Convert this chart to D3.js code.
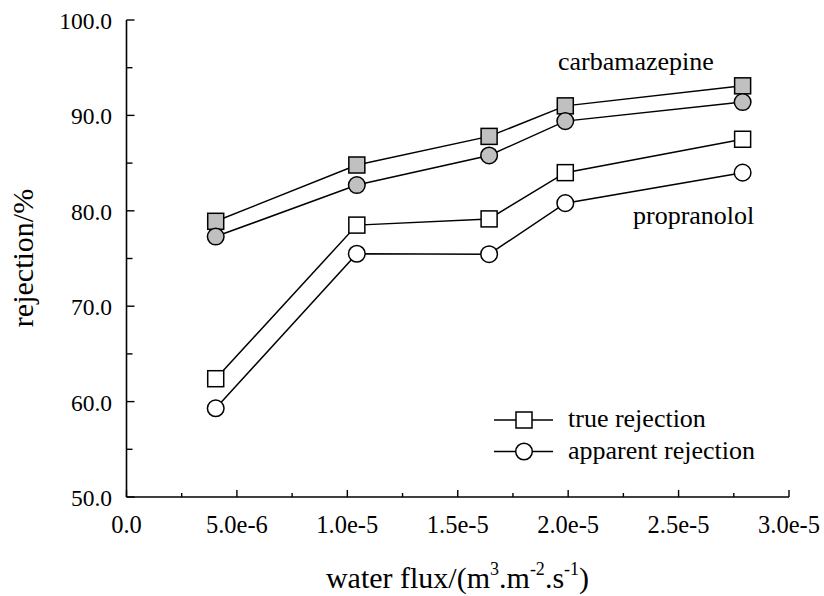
<!DOCTYPE html>
<html>
<head>
<meta charset="utf-8">
<script src="https://cdn.jsdelivr.net/npm/d3@7"></script>
<style>
  body { margin: 0; background: #fff; }
</style>
</head>
<body>
<svg id="chart" width="824" height="596"></svg>
<script>
// ---- data ----
const waterFlux = [4.04e-6, 1.043e-5, 1.642e-5, 1.987e-5, 2.79e-5];
const carbTrue = [78.9, 84.8, 87.8, 91.0, 93.1];
const carbApparent = [77.3, 82.7, 85.8, 89.4, 91.4];
const propTrue = [62.4, 78.5, 79.15, 84.0, 87.5];
const propApparent = [59.3, 75.5, 75.45, 80.8, 84.0];
const xTickValues = [0, 5e-6, 1e-5, 1.5e-5, 2e-5, 2.5e-5, 3e-5];
const xTickLabels = ["0.0", "5.0e-6", "1.0e-5", "1.5e-5", "2.0e-5", "2.5e-5", "3.0e-5"];
const yTickValues = [50, 60, 70, 80, 90, 100];
const yTickLabels = ["50.0", "60.0", "70.0", "80.0", "90.0", "100.0"];
const legendLabels = ["true rejection", "apparent rejection"];

const FONT = "'Liberation Serif', 'Times New Roman', Times, serif";

const series = [
  { values: carbTrue, shape: "square", fill: "#c0c0c0" },
  { values: carbApparent, shape: "circle", fill: "#c0c0c0" },
  { values: propTrue, shape: "square", fill: "#ffffff" },
  { values: propApparent, shape: "circle", fill: "#ffffff" }
];

const svg = d3.select("#chart").attr("font-family", FONT);
const x = d3.scaleLinear().domain([0, 3e-5]).range([126.5, 789]);
const y = d3.scaleLinear().domain([50, 100]).range([497, 20]);

// axes
const g = svg.append("g");
g.append("line").attr("x1", x(0)).attr("x2", x(3e-5)).attr("y1", y(50)).attr("y2", y(50))
  .attr("stroke", "#000").attr("stroke-width", 1.6);
g.append("line").attr("x1", x(0)).attr("x2", x(0)).attr("y1", y(50)).attr("y2", y(100))
  .attr("stroke", "#000").attr("stroke-width", 1.6);

// x ticks (inward)
const xMinor = d3.range(0, 13).map(i => i * 2.5e-6);
xMinor.forEach((v, i) => {
  const major = i % 2 === 0;
  g.append("line").attr("x1", x(v)).attr("x2", x(v))
    .attr("y1", y(50)).attr("y2", y(50) - (major ? 7 : 4))
    .attr("stroke", "#000").attr("stroke-width", 1.4);
});
xTickValues.forEach((v, i) => {
  g.append("text").attr("x", x(v)).attr("y", y(50) + 36)
    .attr("font-family", FONT)
    .attr("text-anchor", "middle").attr("font-size", 24.5).text(xTickLabels[i]);
});

// y ticks (inward)
const yMinor = d3.range(0, 11).map(i => 50 + i * 5);
yMinor.forEach((v, i) => {
  const major = i % 2 === 0;
  g.append("line").attr("x1", x(0)).attr("x2", x(0) + (major ? 8 : 6))
    .attr("y1", y(v)).attr("y2", y(v))
    .attr("stroke", "#000").attr("stroke-width", 1.4);
});
yTickValues.forEach((v, i) => {
  g.append("text").attr("x", 112).attr("y", y(v) + 9)
    .attr("font-family", FONT)
    .attr("text-anchor", "end").attr("font-size", 23.5).text(yTickLabels[i]);
});

// axis titles
const xt = svg.append("text").attr("x", 457.5).attr("y", 588).attr("text-anchor", "middle")
  .attr("font-family", FONT).attr("font-size", 30);
xt.append("tspan").text("water flux/(m");
xt.append("tspan").attr("font-size", 18).attr("dy", -13).text("3");
xt.append("tspan").attr("dy", 13).text(".m");
xt.append("tspan").attr("font-size", 18).attr("dy", -13).text("-2");
xt.append("tspan").attr("dy", 13).text(".s");
xt.append("tspan").attr("font-size", 18).attr("dy", -13).text("-1");
xt.append("tspan").attr("dy", 13).text(")");

svg.append("text").attr("transform", "translate(33,258) rotate(-90)")
  .attr("font-family", FONT)
  .attr("text-anchor", "middle").attr("font-size", 30).text("rejection/%");

// lines + markers
const line = d3.line().x((d, i) => x(waterFlux[i])).y(d => y(d));
function drawMarker(sel, shape, cx, cy, fill) {
  if (shape === "square") {
    sel.append("rect").attr("x", cx - 8).attr("y", cy - 8).attr("width", 16).attr("height", 16)
      .attr("fill", fill).attr("stroke", "#000").attr("stroke-width", 1.5);
  } else {
    sel.append("circle").attr("cx", cx).attr("cy", cy).attr("r", 8.3)
      .attr("fill", fill).attr("stroke", "#000").attr("stroke-width", 1.5);
  }
}
series.forEach(s => {
  svg.append("path").attr("d", line(s.values)).attr("fill", "none")
    .attr("stroke", "#000").attr("stroke-width", 1.5);
});
series.forEach(s => {
  const mg = svg.append("g");
  s.values.forEach((v, i) => drawMarker(mg, s.shape, x(waterFlux[i]), y(v), s.fill));
});

// annotations
svg.append("text").attr("x", 558).attr("y", 70).attr("font-family", FONT).attr("font-size", 26).text("carbamazepine");
svg.append("text").attr("x", 633).attr("y", 224).attr("font-family", FONT).attr("font-size", 26).text("propranolol");

// legend
const legShapes = ["square", "circle"];
const legY = [420, 451.5];
legendLabels.forEach((lab, i) => {
  svg.append("line").attr("x1", 494).attr("x2", 553).attr("y1", legY[i]).attr("y2", legY[i])
    .attr("stroke", "#000").attr("stroke-width", 1.5);
  drawMarker(svg, legShapes[i], 524, legY[i], "#fff");
  svg.append("text").attr("x", 568).attr("y", legY[i] + 7).attr("font-family", FONT)
    .attr("font-size", 26).text(lab);
});
</script>
</body>
</html>
